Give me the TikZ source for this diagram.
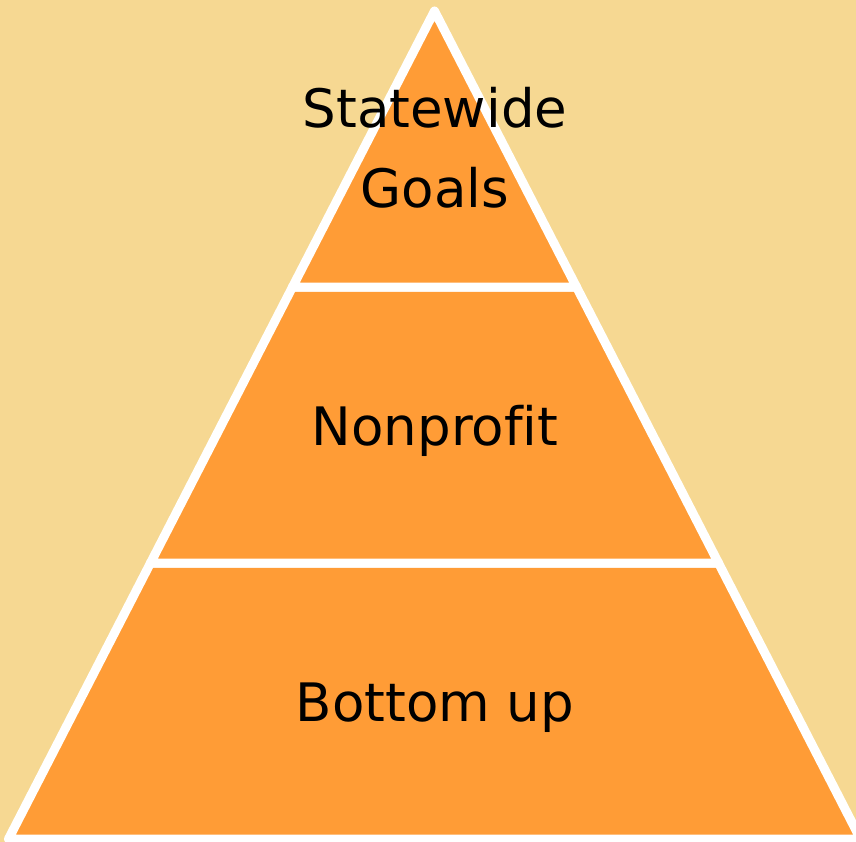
\documentclass[tikz,border=0pt]{standalone}
\usepackage{fontspec}
\setmainfont{DejaVu Sans}[Ligatures=NoCommon]
\definecolor{sand}{RGB}{246,216,146}
\definecolor{tierorange}{RGB}{255,156,54}
\tikzset{
  tier/.style={fill=tierorange, draw=white, line width=9pt, line join=round},
  tierlabel/.style={anchor=base, inner sep=0pt, font=\fontsize{53}{60}\selectfont}
}
\begin{document}
\begin{tikzpicture}[x=1pt,y=-1pt]
	      \useasboundingbox (0,0) rectangle (856,842);
	      \fill[sand] (0,0) rectangle (856,842);
	      \clip (0,0) rectangle (856,842);
	      \path
		(434.5,11) coordinate (apex)
		(292.5,287) coordinate (L1) (576.5,287) coordinate (R1)
		(150.5,563) coordinate (L2) (718.5,563) coordinate (R2)
		(8.5,839) coordinate (L3) (860.5,839) coordinate (R3)
	      ;
	      % Draw the three tiers
		  \draw[tier] (L3) -- (R3) -- (R2) -- (L2) -- cycle;
		  \draw[tier] (L2) -- (R2) -- (R1) -- (L1) -- cycle;
		  \draw[tier] (L1) -- (R1) -- (apex) -- cycle;
		  % Labels
		  \node[tierlabel] (statewide) at (435,128) {Statewide};
		  \node[tierlabel] (goals) at (435,208) {Goals};
		  \node[tierlabel] (nonprofit) at (435,445) {Nonprofit};
		  \node[tierlabel] (bottomup) at (435,721) {Bottom up};
	    \end{tikzpicture}
\end{document}
